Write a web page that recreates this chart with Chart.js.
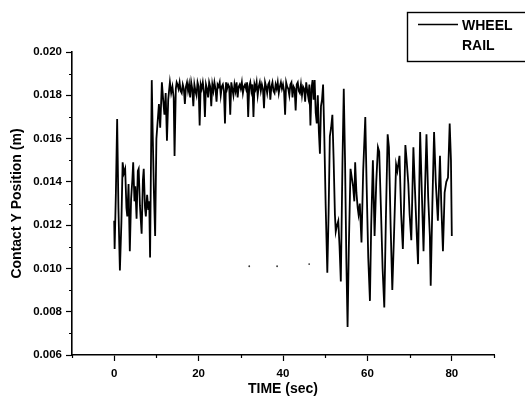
<!DOCTYPE html>
<html>
<head>
<meta charset="utf-8">
<script src="https://cdn.jsdelivr.net/npm/chart.js@4/dist/chart.umd.min.js"></script>
<style>
  html, body { margin: 0; padding: 0; background: #fff; }
  #wrap { width: 525px; height: 405px; position: relative; }
</style>
</head>
<body>
<div id="wrap"><canvas id="c" width="525" height="405"></canvas></div>
<script>
// ---- data ----
const wheelTime = [
  0, 0.1, 0.4, 0.7, 1.0, 1.35, 1.7, 2.0, 2.3, 2.6, 2.9, 3.1, 3.4, 3.7, 4.0, 4.3, 4.5, 4.8, 5.0, 5.3,
  5.6, 5.8, 6.1, 6.5, 6.8, 7.0, 7.3, 7.5, 7.8, 8.1, 8.3, 8.5, 8.9, 9.1, 9.4, 9.7, 10.0, 10.3, 10.6, 10.9,
  11.3, 11.6, 11.9, 12.2, 12.5, 12.8, 13.2, 13.5, 13.8, 14.1, 14.3, 14.6, 14.8,
  15.0, 15.25, 15.5, 15.75, 16.0, 16.25, 16.5, 16.75, 17.0, 17.25, 17.5, 17.75, 18.0, 18.25, 18.5, 18.75,
  19.0, 19.25, 19.5, 19.75, 20.0, 20.25, 20.5, 20.75, 21.0, 21.25, 21.5, 21.75, 22.0, 22.25, 22.5, 22.75,
  23.0, 23.25, 23.5, 23.75, 24.0, 24.25, 24.5, 24.75, 25.0, 25.25, 25.5, 25.75, 26.0, 26.25, 26.5, 26.75,
  27.0, 27.25, 27.5, 27.75, 28.0, 28.25, 28.5, 28.75, 29.0, 29.25, 29.5, 29.75, 30.0, 30.25, 30.5, 30.75,
  31.0, 31.25, 31.5, 31.75, 32.0, 32.25, 32.5, 32.75, 33.0, 33.25, 33.5, 33.75, 34.0, 34.25, 34.5, 34.75,
  35.0, 35.25, 35.5, 35.75, 36.0, 36.25, 36.5, 36.75, 37.0, 37.25, 37.5, 37.75, 38.0, 38.25, 38.5, 38.75,
  39.0, 39.25, 39.5, 39.75, 40.0, 40.25, 40.5, 40.75, 41.0, 41.25, 41.5, 41.75, 42.0, 42.25, 42.5, 42.75,
  43.0, 43.25, 43.5, 43.75, 44.0, 44.25, 44.5, 44.75, 45.0, 45.25, 45.5, 45.75, 46.0, 46.25, 46.5, 46.75,
  47.0, 47.25, 47.5, 47.75, 48.0, 48.25, 48.5, 48.75, 49.0, 49.25, 49.5, 49.8, 50.1, 50.5, 50.8, 51.1,
  51.4, 51.7, 52.0, 52.3, 52.5, 52.8, 53.1, 53.4, 53.7, 54.1, 54.4, 54.7, 55.0, 55.3, 55.6, 56.0,
  56.3, 56.6, 56.9, 57.1, 57.4, 57.7, 57.9, 58.2, 58.6, 59.0, 59.5, 59.8, 60.2, 60.6, 60.9, 61.3,
  61.7, 62.1, 62.5, 62.8, 63.2, 63.6, 64.0, 64.4, 64.8, 65.1, 65.5, 65.9, 66.3, 66.8, 67.1, 67.6,
  68.0, 68.4, 68.7, 69.0, 69.3, 69.7, 70.0, 70.4, 70.9, 71.2, 71.6, 72.0, 72.5, 72.9, 73.3, 73.7,
  74.0, 74.4, 74.8, 75.0, 75.4, 75.8, 76.2, 76.7, 77.2, 77.5, 77.9, 78.3, 78.7, 79.1, 79.5, 79.8, 80.0
];
const wheelY = [
  0.0122, 0.0109, 0.0135, 0.0169, 0.0128, 0.0099, 0.0121, 0.0149, 0.0144, 0.0146, 0.0128, 0.0124, 0.0139, 0.0108, 0.0132, 0.0141, 0.0149, 0.0131, 0.0138, 0.0123,
  0.0145, 0.0146, 0.0129, 0.0116, 0.0141, 0.0146, 0.0128, 0.0124, 0.0134, 0.0127, 0.0131, 0.0105, 0.0187, 0.0165, 0.0136, 0.0115, 0.0160, 0.0168, 0.0176, 0.0165,
  0.0186, 0.0178, 0.0171, 0.0181, 0.0159, 0.0178, 0.0186, 0.0181, 0.0184, 0.0179, 0.0152, 0.0183, 0.0186,
  0.0185, 0.0183, 0.0186, 0.0182, 0.0181, 0.0185, 0.0183, 0.0176, 0.0184, 0.0186, 0.0182, 0.0185, 0.0179, 0.0186, 0.0183, 0.0175,
  0.0185, 0.0182, 0.0180, 0.0186, 0.0184, 0.0166, 0.0185, 0.0183, 0.0186, 0.0182, 0.0170, 0.0185, 0.0183, 0.0179, 0.0186, 0.0184,
  0.0175, 0.0185, 0.0182, 0.0186, 0.0183, 0.0177, 0.0185, 0.0184, 0.0186, 0.0180, 0.0184, 0.0185, 0.0182, 0.0167, 0.0186, 0.0183,
  0.0185, 0.0184, 0.0171, 0.0186, 0.0183, 0.0180, 0.0185, 0.0182, 0.0186, 0.0179, 0.0184, 0.0185, 0.0183, 0.0186, 0.0181, 0.0184,
  0.0185, 0.0183, 0.0186, 0.0170, 0.0184, 0.0186, 0.0182, 0.0185, 0.0170, 0.0185, 0.0183, 0.0186, 0.0180, 0.0184, 0.0186, 0.0182,
  0.0185, 0.0183, 0.0174, 0.0186, 0.0184, 0.0181, 0.0185, 0.0186, 0.0178, 0.0184, 0.0186, 0.0182, 0.0181, 0.0185, 0.0183, 0.0186,
  0.0181, 0.0184, 0.0186, 0.0183, 0.0185, 0.0182, 0.0171, 0.0186, 0.0184, 0.0183, 0.0180, 0.0185, 0.0186, 0.0179, 0.0184, 0.0183,
  0.0173, 0.0185, 0.0186, 0.0182, 0.0181, 0.0185, 0.0180, 0.0184, 0.0183, 0.0177, 0.0186, 0.0182, 0.0179, 0.0185, 0.0166, 0.0183,
  0.0187, 0.0178, 0.0187, 0.0172, 0.0167, 0.0180, 0.0163, 0.0153, 0.0175, 0.0178, 0.0185, 0.0160, 0.0130, 0.0098, 0.0125, 0.0161,
  0.0165, 0.0171, 0.0150, 0.0125, 0.0117, 0.0120, 0.0122, 0.0110, 0.0094, 0.0150, 0.0183, 0.0150, 0.0105, 0.0073, 0.0110, 0.0146,
  0.0142, 0.0138, 0.0131, 0.0149, 0.0135, 0.0128, 0.0125, 0.0130, 0.0112, 0.0145, 0.0170, 0.0140, 0.0105, 0.0085, 0.0120, 0.0150,
  0.0115, 0.0140, 0.0156, 0.0154, 0.0128, 0.0100, 0.0082, 0.0125, 0.0162, 0.0156, 0.0120, 0.0090, 0.0115, 0.0148, 0.0145, 0.0152,
  0.0125, 0.0109, 0.0130, 0.0157, 0.0150, 0.0139, 0.0125, 0.0113, 0.0156, 0.0140, 0.0120, 0.0102, 0.0163, 0.0135, 0.0108, 0.0140,
  0.0162, 0.0133, 0.0115, 0.0092, 0.0130, 0.0163, 0.0140, 0.0122, 0.0152, 0.0130, 0.0108, 0.0135, 0.0140, 0.0142, 0.0167, 0.0150, 0.0115
];
const railTime = [32.0, 38.6, 46.2];
const railY = [0.0101, 0.0101, 0.0102];

const xTickValues = [0, 20, 40, 60, 80];
const xMinorValues = [-10, 10, 30, 50, 70, 90];
const yTickValues = [0.006, 0.008, 0.010, 0.012, 0.014, 0.016, 0.018, 0.020];
const yMinorValues = [0.007, 0.009, 0.011, 0.013, 0.015, 0.017, 0.019];

const seriesNames = ['WHEEL', 'RAIL'];
const xTitle = 'TIME (sec)';
const yTitle = 'Contact Y Position (m)';

// ---- build datasets ----
const wheelPts = wheelTime.map((t, i) => ({ x: t, y: wheelY[i] }));
const railPts = railTime.map((t, i) => ({ x: t, y: railY[i] }));

const FONT = "'Liberation Sans', Arial, Helvetica, sans-serif";

const minorTicks = {
  id: 'minorTicks',
  afterDraw(chart) {
    const ctx = chart.ctx;
    const xs = chart.scales.x, ys = chart.scales.y;
    ctx.save();
    ctx.strokeStyle = '#000';
    ctx.lineWidth = 1.2;
    ctx.beginPath();
    xMinorValues.forEach(v => {
      const px = Math.round(xs.getPixelForValue(v)) + 0.5;
      ctx.moveTo(px, ys.bottom);
      ctx.lineTo(px, ys.bottom + 3);
    });
    yMinorValues.forEach(v => {
      const py = Math.round(ys.getPixelForValue(v)) + 0.5;
      ctx.moveTo(xs.left, py);
      ctx.lineTo(xs.left - 3, py);
    });
    ctx.stroke();
    ctx.restore();
  }
};

const boxLegend = {
  id: 'boxLegend',
  afterDraw(chart) {
    const ctx = chart.ctx;
    ctx.save();
    ctx.strokeStyle = '#000';
    ctx.lineWidth = 1.4;
    ctx.strokeRect(407.5, 12.5, 130, 49);
    ctx.beginPath();
    ctx.lineWidth = 1.3;
    ctx.moveTo(418, 24.5);
    ctx.lineTo(458, 24.5);
    ctx.stroke();
    ctx.fillStyle = '#000';
    ctx.font = "bold 14px " + FONT;
    ctx.textBaseline = 'middle';
    ctx.textAlign = 'left';
    ctx.fillText(chart.data.datasets[0].label, 462, 26);
    ctx.fillText(chart.data.datasets[1].label, 462, 46.5);
    ctx.restore();
  }
};

new Chart(document.getElementById('c'), {
  type: 'scatter',
  data: {
    datasets: [
      {
        label: seriesNames[0],
        data: wheelPts,
        showLine: true,
        borderColor: '#000',
        borderWidth: 1.8,
        pointRadius: 0,
        tension: 0
      },
      {
        label: seriesNames[1],
        data: railPts,
        showLine: false,
        borderColor: '#333',
        backgroundColor: '#333',
        pointRadius: 0.9,
        pointBorderWidth: 0
      }
    ]
  },
  options: {
    responsive: false,
    animation: false,
    devicePixelRatio: 1,
    layout: { padding: { top: 52, right: 31, bottom: 0, left: 0 } },
    plugins: { legend: { display: false }, tooltip: { enabled: false } },
    scales: {
      x: {
        type: 'linear',
        min: -10, max: 90,
        afterBuildTicks(scale) { scale.ticks = xTickValues.map(v => ({ value: v })); },
        afterFit(scale) { scale.height = 50; },
        border: { display: true, color: '#000', width: 1.6 },
        grid: { display: true, drawOnChartArea: false, drawTicks: true, tickLength: 6, tickColor: '#000', tickWidth: 1.2 },
        ticks: {
          color: '#000', padding: 6, maxRotation: 0,
          font: { family: FONT, size: 11.5, weight: 'bold' },
          callback: v => String(v)
        },
        title: {
          display: true, text: xTitle, color: '#000',
          font: { family: FONT, size: 14, weight: 'bold' },
          padding: { top: 0, bottom: 7 }
        }
      },
      y: {
        type: 'linear',
        min: 0.006, max: 0.020,
        afterBuildTicks(scale) { scale.ticks = yTickValues.map(v => ({ value: v })); },
        afterFit(scale) { scale.width = 72; },
        border: { display: true, color: '#000', width: 1.6 },
        grid: { display: true, drawOnChartArea: false, drawTicks: true, tickLength: 6, tickColor: '#000', tickWidth: 1.2 },
        ticks: {
          color: '#000', padding: 4,
          font: { family: FONT, size: 11.5, weight: 'bold' },
          callback: v => Number(v).toFixed(3)
        },
        title: {
          display: true, text: yTitle, color: '#000',
          font: { family: FONT, size: 14, weight: 'bold' },
          padding: { top: 9, bottom: 0 }
        }
      }
    }
  },
  plugins: [minorTicks, boxLegend]
});
</script>
</body>
</html>
